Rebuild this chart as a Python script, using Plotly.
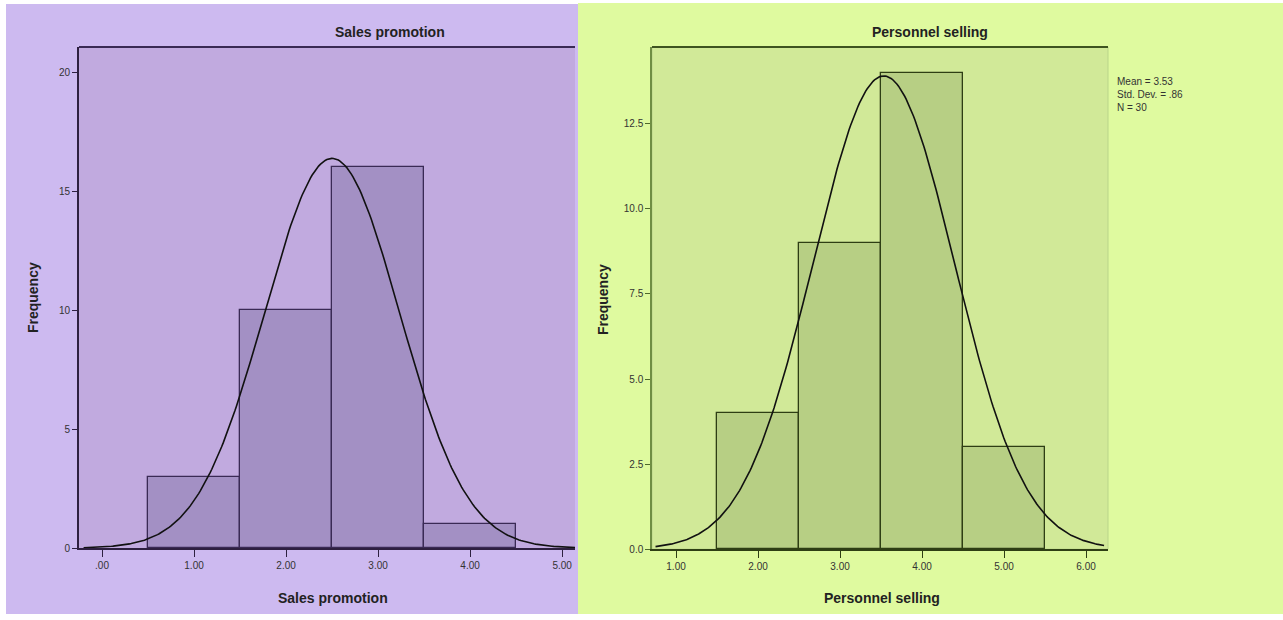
import numpy as np
import plotly.graph_objects as go

# ---- data ----
sales_bins = [1, 2, 3, 4]
sales_counts = [3, 10, 16, 1]
sales_xticks = [0, 1, 2, 3, 4, 5]
sales_xticktext = [".00", "1.00", "2.00", "3.00", "4.00", "5.00"]
sales_yticks = [0, 5, 10, 15, 20]
sales_yticktext = ["0", "5", "10", "15", "20"]

pers_bins = [2, 3, 4, 5]
pers_counts = [4, 9, 14, 3]
pers_xticks = [1, 2, 3, 4, 5, 6]
pers_xticktext = ["1.00", "2.00", "3.00", "4.00", "5.00", "6.00"]
pers_yticks = [0, 2.5, 5, 7.5, 10, 12.5]
pers_yticktext = ["0.0", "2.5", "5.0", "7.5", "10.0", "12.5"]

W, H = 1283, 620
YS = 1.01  # vertical compensation


def px(x):
    return x / W


def py(y):
    return max(0.0, 1 - y * YS / H)


def normal_curve(bins, counts, x0, x1):
    b = np.array(bins, float)
    c = np.array(counts, float)
    n = c.sum()
    m = (b * c).sum() / n
    sd = np.sqrt(((b - m) ** 2 * c).sum() / (n - 1))
    xs = np.linspace(x0, x1, 300)
    ys = n * 1.0 / (sd * np.sqrt(2 * np.pi)) * np.exp(-0.5 * ((xs - m) / sd) ** 2)
    return xs, ys, m, sd, int(n)


fig = go.Figure()

# left histogram
fig.add_trace(go.Bar(x=sales_bins, y=sales_counts, width=1,
                     marker=dict(color="#a390c4", line=dict(color="#3a2a55", width=1.3)),
                     xaxis="x", yaxis="y", showlegend=False))
lx0, lx1 = -0.25, 5.14
xs, ys, m1, s1, n1 = normal_curve(sales_bins, sales_counts, -0.2, lx1)
fig.add_trace(go.Scatter(x=xs, y=ys, mode="lines", line=dict(color="#111111", width=1.6),
                         xaxis="x", yaxis="y", showlegend=False))

# right histogram
fig.add_trace(go.Bar(x=pers_bins, y=pers_counts, width=1,
                     marker=dict(color="#b7cf84", line=dict(color="#2e3e14", width=1.3)),
                     xaxis="x2", yaxis="y2", showlegend=False))
rx0, rx1 = 0.707, 6.268
xs2, ys2, m2, s2, n2 = normal_curve(pers_bins, pers_counts, 0.75, 6.22)
fig.add_trace(go.Scatter(x=xs2, y=ys2, mode="lines", line=dict(color="#111111", width=1.6),
                         xaxis="x2", yaxis="y2", showlegend=False))

tickfont = dict(family="Liberation Sans, Arial, sans-serif", size=10, color="#333333")
titlefont = dict(family="Liberation Sans, Arial, sans-serif", size=14, color="#222222")

shapes = [
    # panel backgrounds
    dict(type="rect", xref="paper", yref="paper", x0=px(6), x1=px(578), y0=py(617), y1=py(4),
         fillcolor="#cdbaf0", line=dict(width=0), layer="below"),
    dict(type="rect", xref="paper", yref="paper", x0=px(578), x1=1, y0=0, y1=py(3),
         fillcolor="#dffa9f", line=dict(width=0), layer="below"),
    # plot area fills
    dict(type="rect", xref="x domain", yref="y domain", x0=0, x1=1, y0=0, y1=1,
         fillcolor="#c1aadf", line=dict(width=0), layer="below"),
    dict(type="rect", xref="x2 domain", yref="y2 domain", x0=0, x1=1, y0=0, y1=1,
         fillcolor="#d1e998", line=dict(color="#b9d48a", width=1), layer="below"),
    # top borders
    dict(type="line", xref="x domain", yref="y domain", x0=0, x1=1, y0=1, y1=1,
         line=dict(color="#3a2a55", width=1.8)),
    dict(type="line", xref="x2 domain", yref="y2 domain", x0=0, x1=1, y0=1, y1=1,
         line=dict(color="#3e5420", width=1.8)),
]

annotations = [
    dict(text="<b>Sales promotion</b>", x=px(390), y=py(32), xref="paper", yref="paper",
         showarrow=False, font=titlefont, xanchor="center", yanchor="middle"),
    dict(text="<b>Personnel selling</b>", x=px(930), y=py(32), xref="paper", yref="paper",
         showarrow=False, font=titlefont, xanchor="center", yanchor="middle"),
    dict(text="<b>Sales promotion</b>", x=px(333), y=py(598), xref="paper", yref="paper",
         showarrow=False, font=titlefont, xanchor="center", yanchor="middle"),
    dict(text="<b>Personnel selling</b>", x=px(882), y=py(598), xref="paper", yref="paper",
         showarrow=False, font=titlefont, xanchor="center", yanchor="middle"),
    dict(text="<b>Frequency</b>", x=px(33), y=py(298), xref="paper", yref="paper",
         showarrow=False, font=titlefont, textangle=-90, xanchor="center", yanchor="middle"),
    dict(text="<b>Frequency</b>", x=px(603), y=py(300), xref="paper", yref="paper",
         showarrow=False, font=titlefont, textangle=-90, xanchor="center", yanchor="middle"),
    dict(text=f"Mean = {m2:.2f}<br>Std. Dev. = {('%.2f' % s2).lstrip('0')}<br>N = {n2}",
         x=px(1115), y=py(74), xref="paper", yref="paper", showarrow=False, align="left",
         font=dict(family="Liberation Sans, Arial, sans-serif", size=10, color="#333333"),
         xanchor="left", yanchor="top"),
]

fig.update_layout(
    width=W, height=H,
    margin=dict(l=0, r=0, t=0, b=0),
    paper_bgcolor="white", plot_bgcolor="rgba(0,0,0,0)",
    bargap=0,
    xaxis=dict(domain=[px(79), px(575)], range=[lx0, lx1], tickvals=sales_xticks,
               ticktext=sales_xticktext, ticks="outside", ticklen=7, tickcolor="#2e2040",
               showline=True, linecolor="#2e2040", linewidth=1.8, showgrid=False,
               zeroline=False, tickfont=tickfont, anchor="y"),
    yaxis=dict(domain=[py(548), py(47)], range=[0, 21.05], tickvals=sales_yticks,
               ticktext=sales_yticktext, ticks="outside", ticklen=5, tickcolor="#2e2040",
               showline=True, linecolor="#2e2040", linewidth=1.8, showgrid=False,
               zeroline=False, tickfont=tickfont, anchor="x"),
    xaxis2=dict(domain=[px(652), px(1108)], range=[rx0, rx1], tickvals=pers_xticks,
                ticktext=pers_xticktext, ticks="outside", ticklen=7, tickcolor="#2e3e14",
                showline=True, linecolor="#2e3e14", linewidth=1.8, showgrid=False,
                zeroline=False, tickfont=tickfont, anchor="y2"),
    yaxis2=dict(domain=[py(549), py(47)], range=[0, 14.76], tickvals=pers_yticks,
                ticktext=pers_yticktext, ticks="outside", ticklen=5, tickcolor="#4e6a2a",
                showline=True, linecolor="#6f8d44", linewidth=1.5, showgrid=False,
                zeroline=False, tickfont=tickfont, anchor="x2"),
    shapes=shapes,
    annotations=annotations,
)

post = (
    "var h=document.documentElement,b=document.body;"
    "h.style.margin='0';h.style.padding='0';h.style.overflow='hidden';"
    "b.style.margin='0';b.style.padding='0';b.style.overflow='hidden';"
)
fig.write_html("out.html", config={"displayModeBar": False}, post_script=post)
